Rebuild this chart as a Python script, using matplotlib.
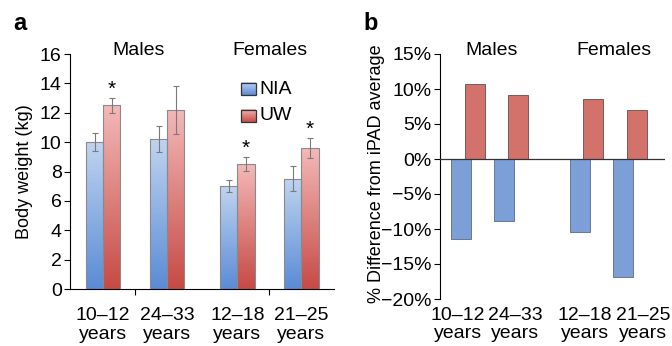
import numpy as np
import matplotlib
matplotlib.use("Agg")
import matplotlib.pyplot as plt
from matplotlib.colors import LinearSegmentedColormap
from matplotlib.patches import Rectangle

plt.rcParams['font.family'] = ['Liberation Sans', 'DejaVu Sans']

# ---- data ----
categories = ["10\u201312\nyears", "24\u201333\nyears", "12\u201318\nyears", "21\u201325\nyears"]
groups = ["Males", "Females"]
nia_weight = [10.0, 10.2, 7.0, 7.5]
uw_weight = [12.5, 12.2, 8.5, 9.6]
nia_err = [0.6, 0.9, 0.4, 0.85]
uw_err = [0.5, 1.65, 0.48, 0.7]
significant = [True, False, True, True]
nia_diff = [-11.4, -8.8, -10.4, -16.9]
uw_diff = [10.7, 9.1, 8.6, 7.0]

# ---- layout ----
W, H = 672, 346
fig = plt.figure(figsize=(W / 100, H / 100), dpi=100)

def ax_rect(x0, x1, y_top, y_bot):
    return [x0 / W, 1 - y_bot / H, (x1 - x0) / W, (y_bot - y_top) / H]

axa = fig.add_axes(ax_rect(70, 334, 54, 289))
axb = fig.add_axes(ax_rect(440, 665, 54, 299))

fs = 14
fsl = 13

# ---- panel a ----
xa = np.array([0, 1, 2.1, 3.1])
bw = 0.27
blue_cmap = LinearSegmentedColormap.from_list("b", ["#5a8bd6", "#c0d4f0"])
red_cmap = LinearSegmentedColormap.from_list("r", ["#c64a45", "#f3b9b8"])
grad = np.linspace(0, 1, 256).reshape(-1, 1)

bars_n = axa.bar(xa - bw / 2, nia_weight, bw, color="none", edgecolor="#8a8a8a", lw=0.8, zorder=3)
bars_u = axa.bar(xa + bw / 2, uw_weight, bw, color="none", edgecolor="#8a8a8a", lw=0.8, zorder=3)
for bars, cmap in ((bars_n, blue_cmap), (bars_u, red_cmap)):
    for b in bars:
        x0, y0 = b.get_x(), b.get_y()
        w, h = b.get_width(), b.get_height()
        im = axa.imshow(grad, cmap=cmap, origin="lower", aspect="auto",
                        extent=(x0, x0 + w, y0, y0 + h), zorder=2)
        clip = Rectangle((x0, y0), w, h, transform=axa.transData)
        im.set_clip_path(clip)

axa.errorbar(xa - bw / 2, nia_weight, yerr=nia_err, fmt="none", ecolor="#7a7a7a",
             elinewidth=0.8, capsize=2, capthick=0.8, zorder=4)
axa.errorbar(xa + bw / 2, uw_weight, yerr=uw_err, fmt="none", ecolor="#7a7a7a",
             elinewidth=0.8, capsize=2, capthick=0.8, zorder=4)
for x, v, e, s in zip(xa, uw_weight, uw_err, significant):
    if s:
        axa.text(x + bw / 2, v + e + 0.6, "*", ha="center", va="center", fontsize=fs + 1)

axa.set_yticks(np.arange(0, 17, 2))
axa.set_xticks([0.5, 2.6])
axa.set_xticklabels([])
axa.tick_params(axis="x", direction="out", length=4, width=0.8)
axa.tick_params(axis="y", direction="out", length=4, width=0.8, labelsize=fs, pad=2)
for sp in ("top", "right"):
    axa.spines[sp].set_visible(False)
for sp in ("left", "bottom"):
    axa.spines[sp].set_linewidth(0.8)
axa.set_ylabel("Body weight (kg)", fontsize=fsl)
axa.yaxis.set_label_coords(-0.14, 0.5)
for x, lab in zip(xa, categories):
    axa.text(x, -1.25, lab, ha="center", va="top", fontsize=fs, linespacing=1.1, clip_on=False)
axa.text(0.55, 15.95, groups[0], ha="center", va="baseline", fontsize=fs)
axa.text(2.6, 15.95, groups[1], ha="center", va="baseline", fontsize=fs)

# legend
for i, (lab, cmap) in enumerate((("NIA", blue_cmap), ("UW", red_cmap))):
    y = 13.2 - i * 1.83
    x0 = 2.15
    rw, rh = 0.234, 0.82
    axa.imshow(grad, cmap=cmap, origin="lower", aspect="auto",
               extent=(x0, x0 + rw, y, y + rh), zorder=5)
    axa.add_patch(Rectangle((x0, y), rw, rh, fill=False, edgecolor="#333333", lw=0.9, zorder=6))
    axa.text(x0 + rw + 0.06, y + rh / 2, lab, va="center", ha="left", fontsize=fs)
axa.set_xlim(-0.52, 3.61)
axa.set_ylim(0, 16)

fig.text(13 / W, 1 - 23 / H, "a", fontsize=17, fontweight="bold", ha="left", va="center")

# ---- panel b ----
xb = np.array([0, 1, 2.75, 3.77])
bwb = 0.465
off = 0.157
axb.bar(xb - off, nia_diff, bwb, color="#7d9fd8", edgecolor="#5a6a80", lw=0.6, zorder=2)
axb.bar(xb + off, uw_diff, bwb, color="#d2726b", edgecolor="#6a4a48", lw=0.6, zorder=2)
axb.set_xlim(-0.65, 4.58)
axb.set_ylim(-20, 15)
axb.set_yticks(np.arange(-20, 16, 5))
axb.set_yticklabels([("\u2212%d%%" % -v) if v < 0 else ("%d%%" % v) for v in range(-20, 16, 5)])
axb.tick_params(axis="y", direction="out", length=4, width=0.8, labelsize=fs, pad=2)
axb.axhline(0, color="#333333", lw=0.9, zorder=3)
for sp in ("top", "right", "bottom"):
    axb.spines[sp].set_visible(False)
axb.spines["left"].set_linewidth(0.8)
axb.set_xticks([])
label_pos = [-0.23, 1.09, 2.72, 4.07]
for x, lab in zip(label_pos, categories):
    axb.text(x, -21.1, lab, ha="center", va="top", fontsize=fs, linespacing=1.1, clip_on=False)
axb.set_ylabel("% Difference from iPAD average", fontsize=fsl)
axb.yaxis.set_label_coords(-0.245, 0.51)
axb.text(0.56, 14.85, groups[0], ha="center", va="baseline", fontsize=fs)
axb.text(3.4, 14.85, groups[1], ha="center", va="baseline", fontsize=fs)

fig.text(363 / W, 1 - 23 / H, "b", fontsize=17, fontweight="bold", ha="left", va="center")

fig.savefig("out.png", dpi=100)
